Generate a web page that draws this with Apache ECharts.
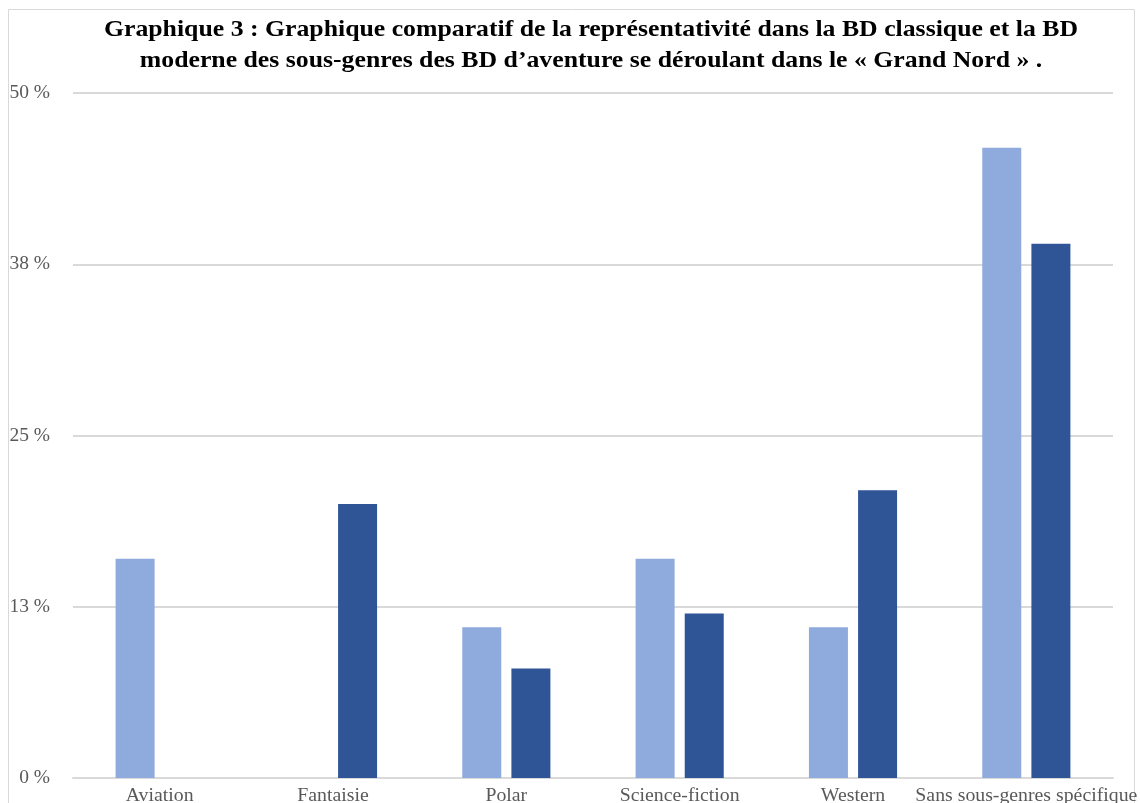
<!DOCTYPE html>
<html>
<head>
<meta charset="utf-8">
<script src="https://cdn.jsdelivr.net/npm/echarts@6/dist/echarts.min.js"></script>
<style>
  html, body { margin: 0; padding: 0; background: #fff; }
  #chart { width: 1140px; height: 803px; }
</style>
</head>
<body>
<div id="chart"></div>
<script>
// Sous-genres des BD d'aventure « Grand Nord »
const categories = ['Aviation', 'Fantaisie', 'Polar', 'Science-fiction', 'Western', 'Sans sous-genres spécifique'];
const bdClassique = [16, 0, 11, 16, 11, 46];
const bdModerne = [0, 20, 8, 12, 21, 39];
const yTicks = [0, 12.5, 25, 37.5, 50];

const titleText = 'Graphique 3 : Graphique comparatif de la représentativité dans la BD classique et la BD\n' +
  'moderne des sous-genres des BD d\u2019aventure se déroulant dans le « Grand Nord » .';

const serif = '"Liberation Serif", "Times New Roman", serif';

const chart = echarts.init(document.getElementById('chart'), null, { renderer: 'canvas' });
chart.setOption({
  backgroundColor: '#ffffff',
  animation: false,
  graphic: [
    {
      // outer frame
      type: 'rect',
      shape: { x: 8.5, y: 9.5, width: 1126, height: 820 },
      style: { fill: 'none', stroke: '#d9d9d9', lineWidth: 1 },
      silent: true
    },
    {
      // two-line bold title, slightly widened
      type: 'text',
      x: 591,
      y: 15,
      scaleX: 1.12,
      style: {
        text: titleText,
        fontFamily: serif,
        fontWeight: 'bold',
        fontSize: 23,
        lineHeight: 31,
        fill: '#000000',
        align: 'center',
        verticalAlign: 'top'
      },
      silent: true
    }
  ],
  grid: {
    left: 73, right: 27, top: 93, bottom: 25,
    containLabel: false,
    outerBoundsMode: 'none'
  },
  xAxis: {
    type: 'category',
    data: categories,
    axisTick: { show: false },
    axisLine: { show: true, lineStyle: { color: '#d9d9d9', width: 2 } },
    axisLabel: {
      interval: 0,
      margin: 8,
      fontFamily: serif,
      fontSize: 19.8,
      color: '#595959'
    }
  },
  yAxis: {
    type: 'value',
    min: yTicks[0],
    max: yTicks[yTicks.length - 1],
    interval: yTicks[1] - yTicks[0],
    axisLine: { show: false },
    axisTick: { show: false },
    splitLine: { lineStyle: { color: '#d9d9d9', width: 2 } },
    axisLabel: {
      margin: 23,
      fontFamily: serif,
      fontSize: 19.5,
      color: '#595959',
      formatter: v => Math.round(v) + ' %'
    }
  },
  series: [
    {
      name: 'BD classique',
      type: 'bar',
      data: bdClassique,
      barWidth: 39,
      barGap: '26%',
      itemStyle: { color: '#8faadc' }
    },
    {
      name: 'BD moderne',
      type: 'bar',
      data: bdModerne,
      barWidth: 39,
      barGap: '26%',
      itemStyle: { color: '#2f5597' }
    }
  ]
});
</script>
</body>
</html>
